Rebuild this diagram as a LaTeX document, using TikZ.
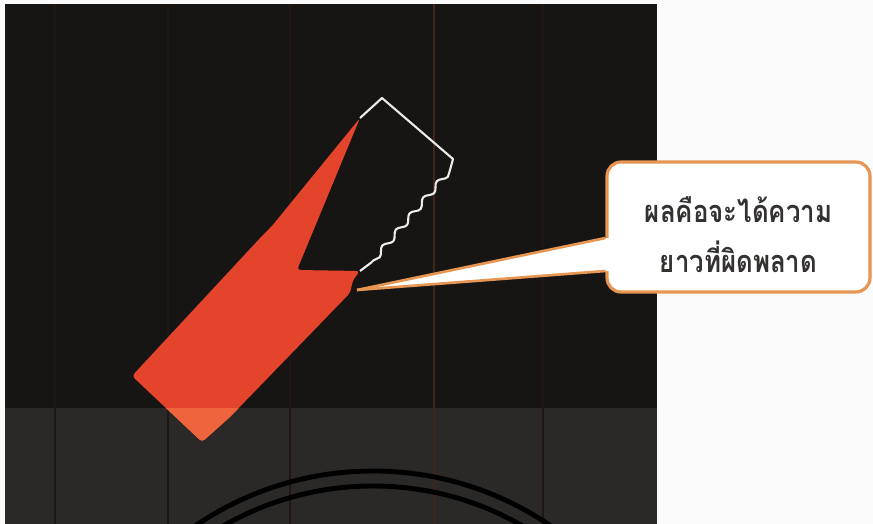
\documentclass[tikz,border=0pt]{standalone}
\usepackage{fontspec}
\newfontfamily\thaifont[Script=Thai, FakeStretch=0.84]{Loma}
\usetikzlibrary{positioning,calc,decorations.pathmorphing}
\definecolor{panelblack}{RGB}{23,21,19}
\definecolor{panelgray}{RGB}{43,41,39}
\definecolor{cutred}{RGB}{228,68,44}
\definecolor{cutorange}{RGB}{238,100,60}
\definecolor{calloutorange}{RGB}{230,150,82}
\definecolor{textgray}{RGB}{52,50,48}
\definecolor{faintline}{RGB}{32,23,19}
\definecolor{mainline}{RGB}{68,36,24}
% outline of the cut part
\newcommand{\cutpath}{(132,376) -- (262,236) -- (272,226) -- (360,118)
    -- (297,270) -- (360,271) -- (353,280) -- (350,293)
    -- (230,417) -- (202,442) -- cycle}
\tikzset{
    panel/.style={fill=panelblack, draw=none},
    lowerpanel/.style={fill=panelgray, draw=none},
    wire/.style={draw=white!85!gray, line width=1.2pt, line join=round},
    ring/.style={draw=black, line width=2.8pt},
    callout/.style={
        rectangle,
        rounded corners=8pt,
        draw=calloutorange,
        line width=1.8pt,
        fill=white,
        align=center,
        minimum width=5.26cm,
        minimum height=2.6cm,
        text=textgray,
        font=\thaifont\bfseries\fontsize{17.5}{28.5}\selectfont
    }
}

\begin{document}
\begin{tikzpicture}[x=0.02cm, y=-0.02cm]
\useasboundingbox (0,0) rectangle (873,524);
\fill[white!97!gray] (0,0) rectangle (873,524);

% Background panels
\fill[panel] (5,4) rectangle (657,524);
\fill[lowerpanel] (5,408) rectangle (657,524);
\foreach \gx in {55,168,290,543}
    \draw[faintline, line width=0.6pt] (\gx,4) -- (\gx,524);
\draw[mainline, line width=0.8pt] (434,4) -- (434,524);

% Rings at the bottom
\begin{scope}
\clip (5,408) rectangle (657,524);
\draw[ring] (373,786) circle [radius=315];
\draw[ring] (373,786) circle [radius=300];
\end{scope}

% Cut part
\fill[cutred, rounded corners=2pt] \cutpath;
\begin{scope}
\clip (5,408) rectangle (657,524);
\fill[cutorange, rounded corners=2pt] \cutpath;
\end{scope}

% Intended outline
\draw[wire] (360,118) -- (382,98) -- (453,159) -- (450,170);
\draw[wire, decorate, decoration={snake, amplitude=1.6pt, segment length=12pt}]
    (450,170) -- (372,262);
\draw[wire] (372,262) -- (360,271);

% Callout
\node[callout, text depth=4pt, text height=56pt] (note) at (738.5,227)
{
ผลคือจะได้ความ\\
ยาวที่ผิดพลาด
};
\coordinate (tip) at (357,290);

\fill[white] (tip) -- ($(note.west)+(0,11)$) -- ($(note.west)+(6,11)$)
    -- ($(note.west)+(6,44)$) -- ($(note.west)+(0,44)$) -- cycle;
\draw[calloutorange, line width=1.5pt] (tip) -- ($(note.west)+(0,11)$);
\draw[calloutorange, line width=1.5pt] (tip) -- ($(note.west)+(0,44)$);

\end{tikzpicture}
\end{document}
